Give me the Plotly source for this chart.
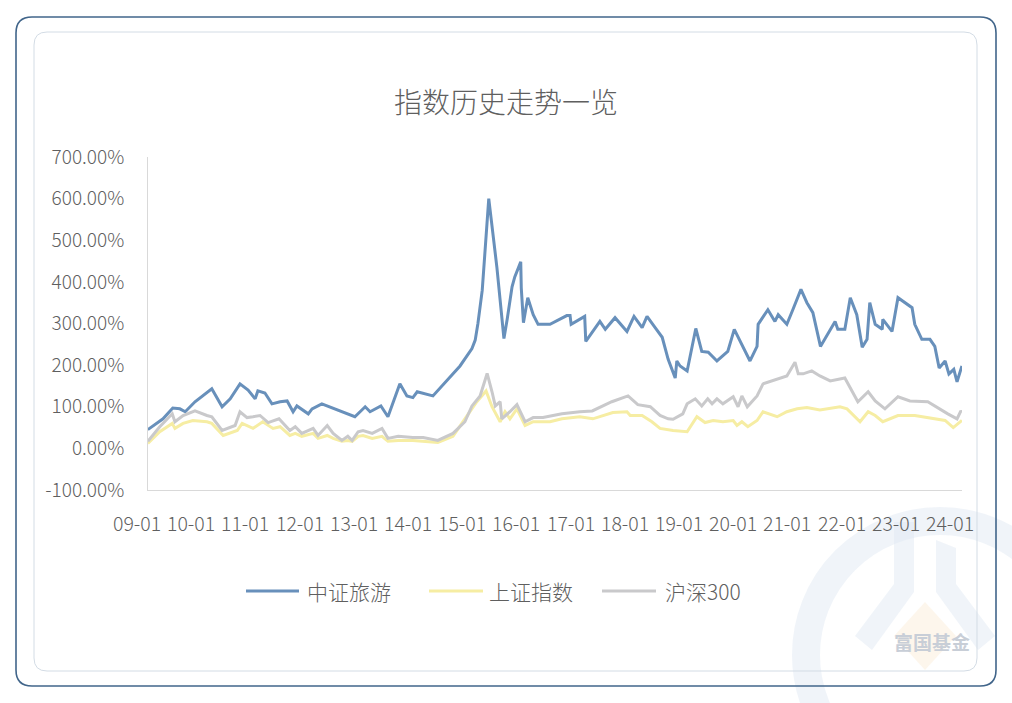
import plotly.graph_objects as go

# ---------------- data ----------------
tour_x = [2009.20, 2009.48, 2009.66, 2009.79, 2009.89, 2010.07, 2010.38, 2010.57, 2010.72, 2010.90,
          2011.05, 2011.18, 2011.23, 2011.36, 2011.49, 2011.64, 2011.77, 2011.88, 2011.95, 2012.16,
          2012.23, 2012.41, 2013.02, 2013.21, 2013.30, 2013.50, 2013.63, 2013.85, 2013.98, 2014.09,
          2014.17, 2014.46, 2014.96, 2015.18, 2015.24, 2015.29, 2015.37, 2015.42, 2015.49, 2015.64,
          2015.70, 2015.77, 2015.83, 2015.92, 2015.97, 2016.08, 2016.09, 2016.13, 2016.21, 2016.31,
          2016.40, 2016.62, 2016.93, 2016.99, 2017.01, 2017.26, 2017.28, 2017.54, 2017.64, 2017.82,
          2018.04, 2018.17, 2018.32, 2018.41, 2018.56, 2018.69, 2018.80, 2018.93, 2018.96, 2019.02,
          2019.15, 2019.31, 2019.42, 2019.54, 2019.70, 2019.90, 2020.02, 2020.31, 2020.44, 2020.46,
          2020.64, 2020.77, 2020.83, 2020.99, 2021.10, 2021.25, 2021.36, 2021.47, 2021.61, 2021.88,
          2021.93, 2022.06, 2022.16, 2022.28, 2022.38, 2022.47, 2022.52, 2022.62, 2022.75, 2022.76,
          2022.93, 2023.04, 2023.30, 2023.35, 2023.48, 2023.63, 2023.72, 2023.80, 2023.91, 2023.98,
          2024.07, 2024.13, 2024.22]
tour_y = [45, 71, 97, 95, 88, 112, 143, 100, 119, 155,
          140, 119, 138, 133, 107, 112, 114, 88, 102, 83,
          95, 107, 76, 100, 88, 102, 76, 155, 126, 122,
          136, 126, 198, 240, 260, 300, 380, 483, 600, 435,
          357, 264, 310, 388, 412, 448, 385, 302, 362, 321,
          298, 298, 319, 319, 298, 317, 257, 305, 286, 314,
          281, 317, 290, 317, 290, 267, 214, 169, 210, 198,
          186, 288, 233, 231, 210, 233, 286, 210, 245, 298,
          333, 305, 321, 298, 333, 382, 350, 326, 245, 305,
          286, 286, 362, 321, 243, 262, 350, 298, 286, 310,
          281, 362, 338, 298, 262, 262, 245, 193, 210, 179,
          190, 160, 198]

sh_x = [2009.20, 2009.42, 2009.65, 2009.70, 2009.85, 2010.03, 2010.29, 2010.38, 2010.59, 2010.85,
        2010.94, 2011.14, 2011.32, 2011.51, 2011.64, 2011.82, 2011.92, 2012.04, 2012.25, 2012.34,
        2012.51, 2012.62, 2012.78, 2012.89, 2012.97, 2013.08, 2013.17, 2013.34, 2013.52, 2013.63,
        2013.82, 2014.09, 2014.55, 2014.83, 2015.05, 2015.27, 2015.44, 2015.55, 2015.70, 2015.79,
        2015.88, 2016.01, 2016.16, 2016.31, 2016.62, 2016.84, 2017.17, 2017.41, 2017.78, 2018.04,
        2018.10, 2018.32, 2018.50, 2018.65, 2018.89, 2019.15, 2019.33, 2019.48, 2019.63, 2019.81,
        2020.00, 2020.07, 2020.16, 2020.27, 2020.44, 2020.55, 2020.81, 2020.99, 2021.18, 2021.36,
        2021.60, 2021.97, 2022.10, 2022.34, 2022.49, 2022.62, 2022.76, 2023.04, 2023.35, 2023.59,
        2023.91, 2024.06, 2024.22]
sh_y = [12, 40, 60, 48, 60, 67, 64, 60, 31, 43,
        60, 48, 64, 48, 52, 31, 36, 29, 36, 24,
        31, 24, 17, 19, 17, 29, 31, 24, 29, 17,
        19, 19, 14, 29, 71, 112, 138, 100, 64, 88,
        71, 95, 55, 64, 64, 71, 76, 71, 86, 88,
        79, 79, 64, 48, 43, 40, 76, 62, 67, 64,
        67, 55, 64, 52, 67, 88, 76, 88, 95, 98,
        92, 100, 95, 64, 88, 79, 64, 79, 79, 74,
        67, 50, 67]

hs_x = [2009.20, 2009.42, 2009.65, 2009.70, 2009.85, 2010.07, 2010.29, 2010.38, 2010.57, 2010.81,
        2010.90, 2011.03, 2011.14, 2011.27, 2011.42, 2011.62, 2011.82, 2011.92, 2012.04, 2012.25,
        2012.34, 2012.51, 2012.62, 2012.78, 2012.89, 2012.97, 2013.08, 2013.17, 2013.34, 2013.52,
        2013.63, 2013.82, 2014.09, 2014.28, 2014.55, 2014.83, 2015.05, 2015.18, 2015.33, 2015.46,
        2015.55, 2015.61, 2015.70, 2015.73, 2015.88, 2016.01, 2016.16, 2016.31, 2016.49, 2016.84,
        2017.17, 2017.40, 2017.76, 2018.06, 2018.24, 2018.47, 2018.65, 2018.80, 2018.89, 2019.02,
        2019.07, 2019.15, 2019.30, 2019.42, 2019.53, 2019.61, 2019.70, 2019.81, 2020.00, 2020.09,
        2020.16, 2020.26, 2020.44, 2020.55, 2020.81, 2020.99, 2021.14, 2021.20, 2021.29, 2021.45,
        2021.60, 2021.79, 2022.06, 2022.30, 2022.49, 2022.62, 2022.80, 2023.04, 2023.26, 2023.59,
        2023.96, 2024.13, 2024.20, 2024.22]
hs_y = [17, 52, 83, 64, 79, 90, 79, 76, 43, 55,
        88, 74, 76, 79, 62, 71, 43, 52, 36, 48,
        31, 55, 36, 19, 29, 19, 40, 43, 36, 48,
        24, 29, 26, 26, 19, 36, 64, 102, 126, 180,
        136, 102, 112, 71, 88, 105, 64, 74, 74, 83,
        88, 90, 112, 126, 105, 100, 79, 71, 70, 79,
        83, 107, 119, 102, 119, 107, 119, 107, 124, 100,
        126, 100, 126, 155, 167, 174, 207, 179, 179, 186,
        174, 162, 169, 112, 136, 114, 95, 124, 114, 112,
        83, 71, 90, 86]

series_names = ["中证旅游", "上证指数", "沪深300"]
series_colors = ["#6890bb", "#f6eda3", "#c9c9cb"]
series_x = [tour_x, sh_x, hs_x]
series_y = [tour_y, sh_y, hs_y]

x_tick_years = list(range(2009, 2025))
x_tick_text = [f"{y % 100:02d}-01" for y in x_tick_years]
y_tick_vals = list(range(-100, 701, 100))
y_tick_text = [f"{v:.2f}%" for v in y_tick_vals]

title_text = "指数历史走势一览"
brand_text = "富国基金"

# ---------------- layout geometry ----------------
W, H = 1012, 703
ML, MR, MT, MB = 148, 50, 157, 213
PW, PH = W - ML - MR, H - MT - MB
FONT = "Noto Sans CJK SC"
TXT = "#5f5f5f"


def fx(p):
    return (p - ML) / PW


def fy(p):
    return (H - MB - p) / PH


def rrect(x0, y0, x1, y1, r):
    return (f"M{fx(x0 + r)},{fy(y0)} L{fx(x1 - r)},{fy(y0)} Q{fx(x1)},{fy(y0)} {fx(x1)},{fy(y0 + r)} "
            f"L{fx(x1)},{fy(y1 - r)} Q{fx(x1)},{fy(y1)} {fx(x1 - r)},{fy(y1)} "
            f"L{fx(x0 + r)},{fy(y1)} Q{fx(x0)},{fy(y1)} {fx(x0)},{fy(y1 - r)} "
            f"L{fx(x0)},{fy(y0 + r)} Q{fx(x0)},{fy(y0)} {fx(x0 + r)},{fy(y0)} Z")


def poly(pts):
    return "M" + " L".join(f"{fx(a)},{fy(b)}" for a, b in pts) + " Z"


fig = go.Figure()
for name, color, xs, ys in zip(series_names, series_colors, series_x, series_y):
    fig.add_trace(go.Scatter(x=xs, y=ys, mode="lines", name=name,
                             line=dict(color=color, width=3), showlegend=False))

shapes = []
wm = "rgba(222,231,241,0.45)"
# watermark ring
cx, cy, r = 940, 655, 134
shapes.append(dict(type="circle", xref="paper", yref="paper", layer="below",
                   x0=fx(cx - r), x1=fx(cx + r), y0=fy(cy + r), y1=fy(cy - r),
                   line=dict(color=wm, width=28), fillcolor="rgba(0,0,0,0)"))
# watermark inner strokes
shapes.append(dict(type="path", xref="paper", yref="paper", layer="below",
                   path=poly([(894, 522), (914, 522), (914, 592), (872, 650), (855, 636), (894, 584)]),
                   fillcolor=wm, line=dict(width=0)))
shapes.append(dict(type="path", xref="paper", yref="paper", layer="below",
                   path=poly([(936, 540), (956, 548), (956, 584), (995, 636), (978, 650), (936, 592)]),
                   fillcolor=wm, line=dict(width=0)))
shapes.append(dict(type="path", xref="paper", yref="paper", layer="below",
                   path=poly([(925, 602), (956, 636), (925, 670), (894, 636)]),
                   fillcolor="rgba(252,238,218,0.5)", line=dict(width=0)))
# frames
shapes.append(dict(type="path", xref="paper", yref="paper", layer="below",
                   path=rrect(16, 17, 996, 686, 16), line=dict(color="#41658a", width=1.6)))
shapes.append(dict(type="path", xref="paper", yref="paper", layer="below",
                   path=rrect(34, 32, 977, 671, 13), line=dict(color="#d3dce5", width=1)))

annotations = [dict(text=brand_text, xref="paper", yref="paper", x=fx(932), y=fy(641),
                    showarrow=False, font=dict(family=FONT, size=19, color="#c8ced7", weight="bold"),
                    xanchor="center", yanchor="middle")]

# x tick labels (category-style, the first one sits left of the plot edge)
for i, t in enumerate(x_tick_text):
    annotations.append(dict(text=t, xref="paper", yref="paper", x=fx(137 + 54.2 * i), y=fy(522),
                            showarrow=False, xanchor="center", yanchor="middle",
                            font=dict(family=FONT, size=19.5, color=TXT, weight=300)))

# manual legend
leg_line_x = [(246, 299), (429, 483), (602, 656)]
leg_text_x = [305, 487, 663]
leg_y = 591
for name, color, (a, b), tx in zip(series_names, series_colors, leg_line_x, leg_text_x):
    shapes.append(dict(type="line", xref="paper", yref="paper", x0=fx(a), x1=fx(b),
                       y0=fy(leg_y), y1=fy(leg_y), line=dict(color=color, width=3)))
    annotations.append(dict(text=name, xref="paper", yref="paper", x=fx(tx), y=fy(leg_y),
                            showarrow=False, xanchor="left", yanchor="middle",
                            font=dict(family=FONT, size=21, color=TXT, weight=300)))

fig.update_layout(
    width=W, height=H,
    margin=dict(l=ML, r=MR, t=MT, b=MB, pad=0),
    paper_bgcolor="white", plot_bgcolor="rgba(0,0,0,0)",
    font=dict(family=FONT, color=TXT),
    title=dict(text=title_text, x=0.5, xref="container", xanchor="center",
               y=1 - 103 / H, yref="container", yanchor="middle",
               font=dict(family=FONT, size=28, color=TXT, weight=300)),
    xaxis=dict(range=[2009 + 11 / 54.2, 2009 + 825 / 54.2], showticklabels=False,
               showgrid=False, zeroline=False, showline=True, linecolor="#d9d9d9",
               linewidth=1, ticks=""),
    yaxis=dict(range=[-100, 700], tickmode="array", tickvals=y_tick_vals, ticktext=y_tick_text,
               showgrid=False, zeroline=False, showline=True, linecolor="#d9d9d9",
               linewidth=1, ticks="", ticklabelstandoff=19,
               tickfont=dict(family=FONT, size=19, color=TXT, weight=300)),
    shapes=shapes, annotations=annotations, showlegend=False,
)

fig.write_html("out.html")
